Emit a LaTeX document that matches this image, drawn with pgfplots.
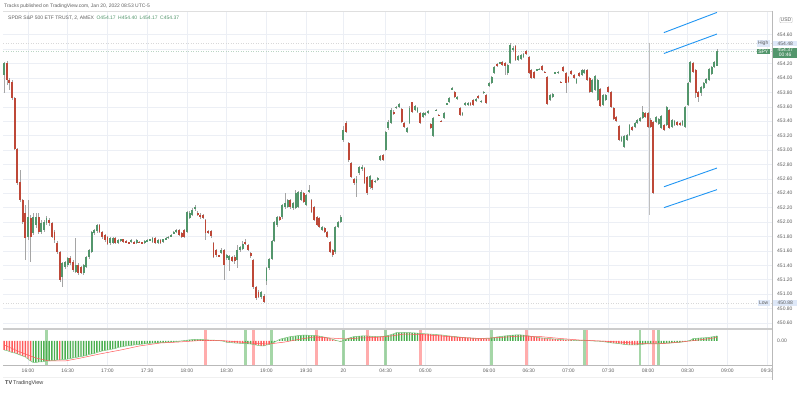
\documentclass[border=0pt]{standalone}
\usepackage{fontspec}
\setmainfont{Liberation Sans}
\usepackage{pgfplots}
\pgfplotsset{compat=1.18}
\usepackage{pgfplotstable}
\definecolor{cgreen}{RGB}{83,150,108}
\definecolor{cred}{RGB}{190,72,56}
\definecolor{wick}{RGB}{165,165,165}
\definecolor{hgreen}{RGB}{76,175,80}
\definecolor{hred}{RGB}{255,90,90}
\definecolor{gridc}{RGB}{236,239,245}
\definecolor{txt}{RGB}{95,95,95}
\definecolor{lblue}{RGB}{33,150,243}
\definecolor{hlbox}{RGB}{222,232,248}
\newcommand\tfont{\fontsize{5}{6}\selectfont}
\pgfplotstableread{
o h l c v g
454.04 454.22 453.79 454.21 -9 0
454.21 454.24 453.91 453.98 -9.5 0
453.98 454.00 453.84 453.93 -10.5 0
453.95 453.98 453.70 453.72 -11.5 0
453.72 453.74 453.00 453.02 -12 0
453.02 453.03 452.52 452.54 -13 0
452.56 452.72 452.28 452.31 -14 0
452.31 452.32 451.97 452.00 -15 0
452.13 452.24 451.47 451.78 -16 0
451.79 452.31 451.75 452.07 -18 0
452.06 452.10 451.45 451.79 -20 0
451.85 452.13 451.82 452.07 -21.5 1
451.96 452.13 451.92 452.07 -21.5 1
452.07 452.13 451.84 451.86 -21 1
451.86 452.03 451.84 451.99 -21 1
451.89 452.03 451.86 452.00 -20.5 1
451.99 452.09 451.96 452.06 -20 1
452.03 452.06 451.95 451.99 -20 1
451.99 452.00 451.78 451.79 -19.5 1
451.86 451.89 451.71 451.75 -19.5 1
451.71 451.74 451.56 451.59 -19 1
451.59 451.60 451.17 451.20 -19 0
451.24 451.45 451.10 451.43 -18.5 1
451.38 451.46 451.35 451.45 -18.5 1
451.41 451.52 451.38 451.50 -18 1
451.50 451.53 451.41 451.43 -17.5 1
451.45 451.47 451.31 451.34 -17 1
451.31 451.78 451.30 451.41 -16.5 1
451.41 451.43 451.27 451.29 -16 1
451.38 451.39 451.28 451.29 -15.5 1
451.29 451.42 451.27 451.41 -15 1
451.38 451.53 451.36 451.52 -14.5 1
451.52 451.63 451.49 451.61 -13.5 1
451.59 451.88 451.57 451.86 -13 1
451.85 451.91 451.82 451.89 -12.5 1
451.88 451.97 451.85 451.96 -11.5 1
451.96 451.97 451.85 451.86 -10.7 1
451.86 451.88 451.77 451.79 -10 1
451.82 451.84 451.72 451.75 -9.5 1
451.79 451.81 451.68 451.70 -9 1
451.71 451.79 451.68 451.78 -8.5 1
451.71 451.79 451.70 451.78 -8 1
451.78 451.79 451.70 451.71 -7.5 1
451.71 451.76 451.70 451.75 -6.3 1
451.74 451.77 451.73 451.76 -6 1
451.76 451.77 451.71 451.72 -5.5 1
451.74 451.75 451.71 451.72 -5 1
451.72 451.73 451.70 451.71 -4.7 1
451.72 451.76 451.71 451.75 -4.3 1
451.73 451.74 451.69 451.70 -4 1
451.71 451.76 451.70 451.75 -3.7 1
451.73 451.74 451.71 451.72 -3.4 1
451.72 451.73 451.70 451.71 -3.1 1
451.71 451.75 451.70 451.74 -2.8 1
451.73 451.76 451.72 451.75 -2.5 1
451.75 451.77 451.74 451.76 -2.3 1
451.72 451.79 451.71 451.78 -2.1 1
451.78 451.79 451.70 451.71 -2 1
451.71 451.76 451.70 451.75 -1.8 1
451.75 451.76 451.70 451.71 -1.7 1
451.72 451.77 451.71 451.76 -1.6 1
451.76 451.79 451.75 451.78 -1.3 1
451.78 451.81 451.77 451.80 -1.2 1
451.80 451.83 451.79 451.82 -1 1
451.84 451.87 451.83 451.86 -0.8 1
451.86 451.90 451.85 451.89 -0.6 1
451.89 451.90 451.81 451.82 -0.3 1
451.85 451.86 451.78 451.79 0.1 1
451.89 451.90 451.78 451.79 0.4 1
451.86 452.15 451.85 452.14 0.8 1
452.06 452.15 452.04 452.13 1.1 1
452.10 452.20 452.09 452.17 1.4 1
452.18 452.24 452.16 452.21 1.7 1
452.13 452.15 452.09 452.10 1.7 1
452.10 452.13 452.04 452.07 1.6 1
452.10 452.11 452.04 452.06 1.4 1
452.03 452.04 451.75 451.85 1 0
451.88 451.89 451.83 451.85 1 0
451.88 451.89 451.78 451.81 0.9 0
451.71 451.72 451.50 451.52 0.8 0
451.61 451.63 451.52 451.54 0.7 0
451.54 451.55 451.51 451.53 0.4 0
451.57 451.64 451.56 451.61 0.1 0
451.61 451.63 451.20 451.41 -0.4 0
451.50 451.56 451.47 451.54 -1.3 0
451.47 451.54 451.32 451.53 -1.5 0
451.52 451.53 451.45 451.46 -1.7 0
451.52 451.54 451.42 451.46 -2 0
451.47 451.68 451.36 451.61 -2.1 0
451.61 451.67 451.59 451.66 -2.3 0
451.63 451.74 451.61 451.70 -2.5 0
451.73 451.76 451.68 451.70 -2.6 1
451.68 451.70 451.60 451.61 -2.8 1
451.57 451.59 451.50 451.53 -3 1
451.47 451.49 451.07 451.10 -3.5 0
451.10 451.11 450.92 450.95 -4 0
451.03 451.06 450.95 450.96 -4.5 0
450.96 451.04 450.93 451.03 -5 0
450.97 451.00 450.88 450.89 -5 0
451.18 451.38 451.13 451.36 -4 0
451.36 451.50 451.34 451.49 -3.5 0
451.49 451.75 451.47 451.74 -2.5 1
451.74 452.02 451.72 452.00 -1.2 1
451.96 452.09 451.93 452.07 0.2 1
452.07 452.09 452.02 452.03 1.7 1
452.07 452.25 452.04 452.24 2.4 1
452.21 452.41 452.18 452.27 3 1
452.21 452.32 452.20 452.31 3.7 1
452.31 452.32 452.18 452.21 4.3 1
452.20 452.28 452.17 452.27 4.7 1
452.20 452.45 452.18 452.41 5 1
452.21 452.43 452.20 452.42 5.4 1
452.31 452.45 452.29 452.42 5.7 1
452.41 452.42 452.27 452.28 5.8 1
452.24 452.39 452.22 452.38 5.8 1
452.42 452.52 452.41 452.45 5.7 1
452.31 452.32 452.13 452.14 5.7 1
452.21 452.22 452.02 452.03 5.6 1
452.07 452.09 451.95 451.96 5.3 0
452.06 452.07 451.92 451.93 4.8 0
451.89 451.95 451.88 451.93 4.3 0
451.92 451.93 451.85 451.86 3.8 0
451.86 451.88 451.78 451.79 3.2 0
451.72 451.74 451.57 451.59 2.4 0
451.61 451.63 451.52 451.54 1.7 0
451.59 451.95 451.56 451.93 0.8 0
451.93 452.02 451.92 452.00 0.1 0
452.00 452.10 451.99 452.07 -0.7 0
453.14 453.34 453.11 453.28 0.5 1
453.38 453.41 453.24 453.25 1.8 1
453.10 453.11 452.84 452.86 2.8 1
452.82 452.84 452.61 452.63 3.6 1
452.60 452.61 452.52 452.54 4.3 1
452.54 452.64 452.35 452.60 4.6 1
452.68 452.78 452.66 452.77 4.8 1
452.73 452.79 452.71 452.77 5 1
452.75 452.77 452.53 452.54 5 1
452.63 452.64 452.38 452.41 5 0
452.49 452.66 452.46 452.64 4.8 0
452.59 452.60 452.45 452.47 4.6 0
452.56 452.58 452.54 452.57 4.5 0
452.59 452.62 452.57 452.61 4.3 0
452.86 452.93 452.85 452.92 4.4 0
452.93 452.95 452.85 452.86 4.6 0
453.00 453.27 452.99 453.25 5 1
453.31 453.42 453.28 453.39 5.6 1
453.38 453.59 453.36 453.56 6.3 1
453.53 453.56 453.49 453.50 7.2 1
453.59 453.61 453.57 453.60 8.3 1
453.60 453.66 453.59 453.64 8.3 1
453.57 453.59 453.38 453.39 8.4 1
453.38 453.39 453.31 453.32 8.5 1
453.25 453.32 453.24 453.31 8.4 1
453.38 453.61 453.36 453.59 8.3 1
453.66 453.67 453.52 453.53 8.2 1
453.56 453.63 453.54 453.61 8 1
453.53 453.60 453.52 453.59 7.8 1
453.52 453.53 453.36 453.38 7.5 0
453.46 453.53 453.45 453.52 7.4 0
453.49 453.53 453.47 453.52 7.2 0
453.52 453.56 453.50 453.54 7 0
453.36 453.38 453.29 453.31 6.8 0
453.20 453.46 453.18 453.45 6.7 0
453.55 453.57 453.54 453.56 6.5 0
453.49 453.50 453.47 453.48 6.2 0
453.41 453.42 453.39 453.40 6 0
453.45 453.53 453.43 453.52 5.7 0
453.64 453.66 453.63 453.65 5.3 0
453.67 453.74 453.66 453.72 5 0
453.85 453.88 453.84 453.86 4.7 0
453.81 453.82 453.72 453.74 4.5 0
453.71 453.75 453.70 453.74 4.2 0
453.59 453.60 453.47 453.49 3.9 0
453.49 453.53 453.47 453.52 3.6 0
453.63 453.67 453.61 453.66 3.3 0
453.63 453.67 453.61 453.66 3.1 0
453.66 453.67 453.61 453.63 3 0
453.70 453.71 453.61 453.63 2.8 0
453.68 453.72 453.67 453.71 2.6 0
453.75 453.77 453.71 453.72 2.5 0
453.67 453.69 453.66 453.68 2.4 0
453.79 453.82 453.78 453.81 2.3 0
453.77 453.78 453.64 453.66 2.3 0
453.89 453.95 453.88 453.93 2.5 0
453.93 454.03 453.92 454.02 3 1
454.07 454.17 454.06 454.16 3.5 1
454.20 454.21 454.16 454.17 4 1
454.21 454.23 454.20 454.22 4.4 1
454.23 454.24 454.17 454.18 4.7 1
454.21 454.23 454.04 454.17 5 1
454.07 454.20 454.04 454.18 5.3 1
454.21 454.48 454.20 454.46 5.6 1
454.39 454.45 454.36 454.42 5.9 1
454.45 454.46 454.24 454.25 6 1
454.25 454.32 454.24 454.31 6 1
454.27 454.34 454.25 454.32 6 1
454.29 454.35 454.28 454.34 5.8 1
454.38 454.39 454.32 454.34 5.5 0
454.29 454.31 454.06 454.07 5 0
454.11 454.13 453.99 454.00 4.6 0
454.09 454.10 453.99 454.00 4.2 0
454.11 454.13 454.10 454.12 3.8 0
454.12 454.14 454.11 454.13 3.3 0
454.17 454.18 454.10 454.11 3 0
454.09 454.10 454.07 454.08 2.8 0
454.02 454.03 453.63 453.64 2.6 0
453.70 453.78 453.68 453.77 2.4 0
453.74 453.79 453.72 453.78 2.1 0
454.07 454.09 454.06 454.08 1.9 0
454.07 454.10 454.06 454.09 1.7 0
453.95 453.96 453.93 453.94 1.5 0
454.16 454.17 454.09 454.10 1.3 0
454.07 454.09 453.79 453.93 1.1 0
454.02 454.03 453.93 453.95 1 0
454.10 454.11 454.04 454.06 0.9 0
454.04 454.06 453.99 454.00 0.7 0
453.93 454.00 453.92 453.99 0.7 0
454.07 454.09 454.02 454.03 0.6 0
454.04 454.13 454.03 454.11 0.6 0
454.07 454.13 454.06 454.11 0.5 0
454.11 454.13 453.96 453.98 0.5 0
454.00 454.02 453.79 453.81 0.3 0
453.81 453.99 453.79 453.98 0.1 0
453.84 454.04 453.82 454.03 -0.1 0
453.70 453.99 453.68 453.98 -0.2 0
453.85 453.86 453.60 453.61 -0.3 0
453.63 453.78 453.61 453.77 -0.6 0
453.70 453.78 453.68 453.77 -1 0
453.88 453.89 453.79 453.81 -1.4 0
453.81 453.82 453.59 453.60 -1.8 0
453.59 453.60 453.42 453.43 -2.1 0
453.46 453.47 453.39 453.41 -2.3 0
453.34 453.35 453.13 453.14 -2.6 0
453.13 453.20 453.11 453.18 -3 0
453.04 453.21 453.03 453.20 -3.4 0
453.14 453.22 453.13 453.21 -3.7 0
453.21 453.36 453.20 453.35 -3.9 0
453.32 453.34 453.27 453.28 -4 0
453.32 453.39 453.31 453.38 -4 0
453.38 453.43 453.36 453.42 -3.8 0
453.41 453.46 453.39 453.45 -3.5 1
453.45 453.61 453.43 453.53 -3.3 1
453.52 453.53 453.45 453.46 -3 1
453.52 453.53 453.31 453.32 -2.7 1
453.42 453.45 453.31 453.32 -2.6 1
453.39 453.41 452.39 452.40 -2.5 0
453.39 453.47 453.38 453.46 -2.6 0
453.36 453.45 453.35 453.43 -2.5 1
453.31 453.49 453.29 453.47 -2.4 1
453.35 453.36 453.27 453.28 -2.3 1
453.35 453.61 453.34 453.60 -2.2 1
453.56 453.57 453.29 453.31 -2.1 1
453.32 453.43 453.31 453.42 -1.9 1
453.35 453.42 453.34 453.41 -1.7 1
453.39 453.41 453.34 453.35 -1.5 1
453.38 453.39 453.34 453.35 -1.3 1
453.35 453.42 453.34 453.41 -1 1
453.32 453.61 453.31 453.60 -0.6 1
453.63 453.95 453.61 453.93 0.1 1
453.95 454.24 453.93 454.22 0.8 1
454.21 454.22 454.07 454.09 2.3 1
454.11 454.13 453.73 453.79 2.6 1
453.81 453.82 453.66 453.74 2.8 1
453.79 453.89 453.75 453.88 3 1
453.86 453.95 453.85 453.93 3.2 1
453.93 454.00 453.92 453.99 3.3 1
453.98 454.14 453.96 454.13 3.6 1
454.06 454.17 454.04 454.16 4 1
454.16 454.24 454.14 454.22 4.5 1
454.17 454.40 454.17 454.37 5 1
}\bars
\begin{document}
\begin{tikzpicture}
\useasboundingbox (0pt,0pt) rectangle (800pt,393pt);
\fill[white] (0pt,0pt) rectangle (800pt,393pt);
% price panel
\begin{axis}[at={(3pt,65pt)}, anchor=south west, width=769pt, height=317pt, scale only axis,
  xmin=-0.43, xmax=289.8, ymin=450.53, ymax=454.93,
  axis line style={draw=none}, tick style={draw=none},
  xtick={9,24,39,54,69,84,99,114,128,144,159,183,198,213,228,243,258,273,288}, xticklabels={},
  ytick={450.6,450.8,451,451.2,451.4,451.6,451.8,452,452.2,452.4,452.6,452.8,453,453.2,453.4,453.6,453.8,454,454.2,454.4,454.6},
  yticklabels={450.60,450.80,451.00,451.20,451.40,451.60,451.80,452.00,452.20,452.40,452.60,452.80,453.00,453.20,453.40,453.60,453.80,454.00,454.20,,454.60},
  yticklabel pos=right,
  yticklabel style={font=\tfont, text=txt, anchor=west, inner sep=0pt, xshift=5pt},
  grid=major, major grid style={draw=gridc, line width=0.6pt}]
\addplot[gray!30, dotted, line width=0.5pt] coordinates {(-0.43,454.48) (289.8,454.48)};
\addplot[gray!30, dotted, line width=0.5pt] coordinates {(-0.43,450.88) (289.8,450.88)};
\addplot[cgreen!40, dotted, line width=0.5pt] coordinates {(-0.43,454.37) (289.8,454.37)};
\addplot[gray!50, line width=0.5pt] coordinates {(243.3,454.49) (243.3,452.10)};
% wicks
\addplot[draw=none, mark=none, error bars/.cd, y dir=both, y explicit, error mark=none,
  error bar style={line width=0.5pt, draw=wick}]
  table[x expr=\coordindex, y expr={(\thisrow{h}+\thisrow{l})/2}, y error expr={(\thisrow{h}-\thisrow{l})/2}] {\bars};
% green bodies
\addplot[draw=none, mark=none, restrict expr to domain={\thisrow{c}-\thisrow{o}}{0:100},
  error bars/.cd, y dir=both, y explicit, error mark=none,
  error bar style={line width=1.9pt, draw=cgreen}]
  table[x expr=\coordindex, y expr={(\thisrow{o}+\thisrow{c})/2}, y error expr={abs(\thisrow{c}-\thisrow{o})/2}] {\bars};
% red bodies
\addplot[draw=none, mark=none, restrict expr to domain={\thisrow{c}-\thisrow{o}}{-100:0},
  error bars/.cd, y dir=both, y explicit, error mark=none,
  error bar style={line width=1.9pt, draw=cred}]
  table[x expr=\coordindex, y expr={(\thisrow{o}+\thisrow{c})/2}, y error expr={abs(\thisrow{c}-\thisrow{o})/2}] {\bars};
% drawings
\addplot[lblue, line width=0.9pt] coordinates {(249,454.63) (269,454.91)};
\addplot[lblue, line width=0.9pt] coordinates {(249,454.34) (269,454.61)};
\addplot[lblue, line width=0.9pt] coordinates {(249,452.49) (269,452.75)};
\addplot[lblue, line width=0.9pt] coordinates {(249,452.20) (269,452.45)};
\end{axis}
% MACD panel
\begin{axis}[at={(3pt,28pt)}, anchor=south west, width=769pt, height=35pt, scale only axis,
  xmin=-0.43, xmax=289.8, ymin=-24, ymax=11,
  axis line style={draw=none}, tick style={draw=none},
  xtick={9,24,39,54,69,84,99,114,128,144,159,183,198,213,228,243,258,273,288},
  xticklabels={16:00,16:30,17:00,17:30,18:00,18:30,19:00,19:30,20,04:30,05:00,06:00,06:30,07:00,07:30,08:00,08:30,09:00,09:30},
  xticklabel style={font=\tfont, text=txt, inner sep=0pt, yshift=-4pt},
  ytick={0}, yticklabels={0.00}, yticklabel pos=right,
  yticklabel style={font=\tfont, text=txt, anchor=west, inner sep=0pt, xshift=5pt},
  xmajorgrids, major grid style={draw=gridc, line width=0.6pt}]
\addplot[draw=none, mark=none, error bars/.cd, y dir=both, y fixed=17.5, error mark=none,
  error bar style={line width=2.8pt, draw=hgreen, opacity=0.5}]
  coordinates {(16,-6.5) (91,-6.5) (101,-6.5) (128,-6.5) (144,-6.5) (184,-6.5) (219,-6.5) (240,-6.5) (247,-6.5)};
\addplot[draw=none, mark=none, error bars/.cd, y dir=both, y fixed=17.5, error mark=none,
  error bar style={line width=2.8pt, draw=hred, opacity=0.5}]
  coordinates {(76,-6.5) (94,-6.5) (118,-6.5) (137,-6.5) (157,-6.5) (197,-6.5) (220,-6.5) (245,-6.5)};
\addplot[ybar, bar width=1.4pt, bar shift=0pt, fill=hgreen, draw=none,
  restrict expr to domain={\thisrow{g}}{0.5:1.5}] table[x expr=\coordindex, y=v] {\bars};
\addplot[ybar, bar width=1.4pt, bar shift=0pt, fill=hred, draw=none,
  restrict expr to domain={\thisrow{g}}{-0.5:0.5}] table[x expr=\coordindex, y=v] {\bars};
\addplot[hgreen!75, line width=0.5pt] table[x expr=\coordindex, y=v] {\bars};
\addplot[hred, line width=0.5pt] coordinates {(0,-4) (6,-11) (12,-17) (17,-20) (23,-20) (29,-17) (36,-13) (44,-9) (51,-5) (59,-2) (66,-1) (74,0.5) (82,0.5) (89,-1) (95,-2.5) (100,-3) (106,-1) (112,2) (117,4) (123,3) (129,2) (134,3) (140,3.5) (146,5) (151,7) (157,6.5) (165,5) (172,3.5) (180,2.5) (187,3.5) (195,5) (202,4.5) (210,2.5) (217,1) (225,0) (232,-1) (240,-2.5) (246,-3) (251,-2) (259,0) (265,2) (269,3.5)};
\end{axis}
\begin{scope}[x=1pt,y=1pt]
% frame lines
\draw[gray!25, line width=0.6pt] (3,382) -- (772,382);
\draw[gray!55, line width=0.6pt] (772,382) -- (772,13);
\draw[gray!40, line width=2pt] (3,64) -- (772,64);
\draw[gray!55, line width=0.8pt] (3,27.5) -- (772,27.5);
\draw[gray!12, line width=0.6pt] (3,16) -- (772,16);
% texts
\node[anchor=west, inner sep=0pt, font=\tfont, text=txt] at (4,387) {Tracks published on TradingView.com, Jan 20, 2022 08:53 UTC-5};
\node[anchor=west, inner sep=0pt, font=\tfont, text=txt] at (8,375) {SPDR S\&P 500 ETF TRUST, 2, AMEX\enspace\textcolor{cgreen}{O454.17\enspace H454.40\enspace L454.17\enspace C454.37}};
\node[draw=gray!50, rounded corners=1pt, font=\tfont, text=txt, inner sep=1pt] at (786,373) {USD};
\node[fill=hlbox, inner xsep=1.5pt, inner ysep=0.8pt, font=\tfont, text=txt, anchor=east] at (770,349.4) {High};
\node[fill=hlbox, minimum width=24pt, inner sep=0.8pt, font=\tfont, text=txt, anchor=west] at (773,349.4) {454.48};
\node[fill=cgreen, text=white, font=\tfont, inner xsep=1.5pt, inner ysep=0.8pt, anchor=east] at (770,341.5) {SPY};
\node[fill=cgreen, text=white, font=\tfont, anchor=north west, minimum width=24pt, inner sep=0.8pt, align=center] at (773,345.5) {454.37\\[-1pt]00:46};
\node[fill=hlbox, inner xsep=1.5pt, inner ysep=0.8pt, font=\tfont, text=txt, anchor=east] at (770,90) {Low};
\node[fill=hlbox, minimum width=24pt, inner sep=0.8pt, font=\tfont, text=txt, anchor=west] at (773,90) {450.88};
\node[anchor=west, inner sep=0pt, font=\fontsize{5.5}{6}\selectfont, text=black!75] at (5,9.5) {\textbf{TV}\,TradingView};
\end{scope}
\end{tikzpicture}
\end{document}
